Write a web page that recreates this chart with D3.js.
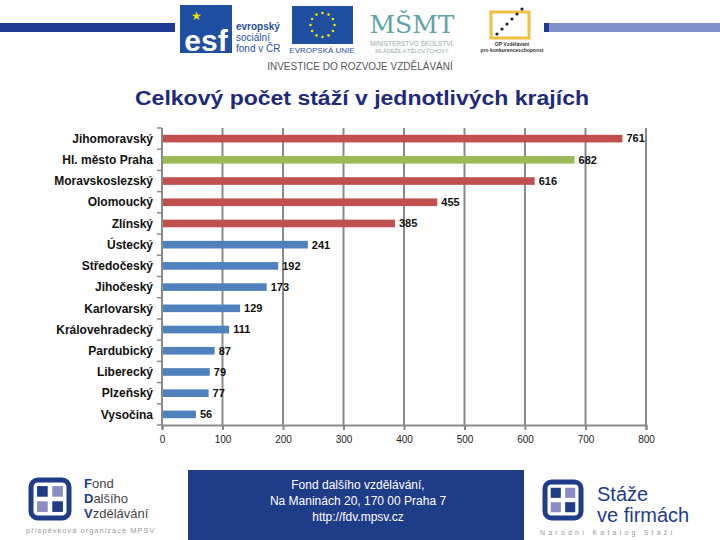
<!DOCTYPE html>
<html>
<head>
<meta charset="utf-8">
<script src="https://cdn.jsdelivr.net/npm/d3@7"></script>
<style>
  body { margin: 0; background: #fff; }
  svg { display: block; font-family: "Liberation Sans", Arial, sans-serif; }
</style>
</head>
<body>
<svg id="chart" width="720" height="540"></svg>
<script>
const regions= ['Jihomoravský', 'Hl. město Praha', 'Moravskoslezský', 'Olomoucký', 'Zlínský',
  'Ústecký', 'Středočeský', 'Jihočeský', 'Karlovarský', 'Královehradecký',
  'Pardubický', 'Liberecký', 'Plzeňský', 'Vysočina'];
const internships= [761, 682, 616, 455, 385, 241, 192, 173, 129, 111, 87, 79, 77, 56];
const groups= ['red', 'green', 'red', 'red', 'red', 'blue', 'blue', 'blue', 'blue', 'blue',
  'blue', 'blue', 'blue', 'blue'];
const xTicks= [0, 100, 200, 300, 400, 500, 600, 700, 800];

const palette= { red: '#c0504d', green: '#9bbb59', blue: '#4f81bd' };
const navy= '#1f3c88';
const grid= '#8a8a8a';

const svg= d3.select('#chart');

// header band and logos
svg.append('rect').attr('x', 0).attr('y', 23).attr('width', 175).attr('height', 9).attr('fill', '#1f3a93');
svg.append('rect').attr('x', 544).attr('y', 23).attr('width', 176).attr('height', 9).attr('fill', '#7f8fc8');
svg.append('rect').attr('x', 544).attr('y', 23).attr('width', 5).attr('height', 9).attr('fill', '#1f3a93');

// esf
svg.append('rect').attr('x', 180).attr('y', 5).attr('width', 52).attr('height', 48).attr('fill', '#1f4fa0');
svg.append('text').attr('x', 206).attr('y', 51).attr('text-anchor', 'middle')
  .attr('fill', '#fff').attr('font-size', 30).attr('font-weight', 'bold').text('esf');
svg.append('text').attr('x', 196).attr('y', 20).attr('text-anchor', 'middle')
  .attr('fill', '#f5e000').attr('font-size', 12).text('★');
[['evropský', 30, '#1f4fa0', 'bold'], ['sociální', 41, '#1f4fa0', 'normal'], ['fond v ČR', 52, '#1f4fa0', 'normal']]
  .forEach(([t, y, c, w]) => svg.append('text').attr('x', 236).attr('y', y).attr('fill', c)
    .attr('font-size', 10).attr('font-weight', w).text(t));

// eu flag
svg.append('rect').attr('x', 292).attr('y', 6).attr('width', 61).attr('height', 38).attr('fill', '#1f4fa0');
d3.range(12).forEach(i => {
  const a= i/12*2*Math.PI;
  svg.append('circle').attr('cx', 322.5+12*Math.cos(a)).attr('cy', 25+12*Math.sin(a))
    .attr('r', 1.3).attr('fill', '#f5e000');
});
svg.append('text').attr('x', 322).attr('y', 53).attr('text-anchor', 'middle')
  .attr('fill', '#1f4fa0').attr('font-size', 8).text('EVROPSKÁ UNIE');

// msmt
svg.append('text').attr('x', 412).attr('y', 33).attr('text-anchor', 'middle')
  .attr('fill', '#5fa3a8').attr('font-size', 25).attr('font-family', 'DejaVu Serif').text('MŠMT');
svg.append('text').attr('x', 412).attr('y', 46).attr('text-anchor', 'middle')
  .attr('fill', '#9aa').attr('font-size', 6.5).text('MINISTERSTVO ŠKOLSTVÍ,');
svg.append('text').attr('x', 412).attr('y', 53).attr('text-anchor', 'middle')
  .attr('fill', '#9aa').attr('font-size', 5.5).text('MLÁDEŽE A TĚLOVÝCHOVY');

// op logo
svg.append('rect').attr('x', 491).attr('y', 12).attr('width', 38).attr('height', 26)
  .attr('fill', 'none').attr('stroke', '#f0c040').attr('stroke-width', 3);
d3.range(6).forEach(i => svg.append('circle').attr('cx', 497+i*5).attr('cy', 34-i*5)
  .attr('r', 1.6).attr('fill', '#222'));
svg.append('text').attr('x', 512).attr('y', 46).attr('text-anchor', 'middle')
  .attr('fill', '#333').attr('font-size', 5).attr('font-weight', 'bold').text('OP Vzdělávání');
svg.append('text').attr('x', 512).attr('y', 52).attr('text-anchor', 'middle')
  .attr('fill', '#333').attr('font-size', 5).attr('font-weight', 'bold').text('pro konkurenceschopnost');

svg.append('text').attr('x', 360).attr('y', 70).attr('text-anchor', 'middle')
  .attr('fill', '#555').attr('font-size', 10).text('INVESTICE DO ROZVOJE VZDĚLÁVÁNÍ');

// title
svg.append('text').attr('x', 362).attr('y', 105).attr('text-anchor', 'middle')
  .attr('fill', '#1f2a7a').attr('font-size', 20).attr('font-weight', 'bold')
  .attr('textLength', 454).attr('lengthAdjust', 'spacingAndGlyphs')
  .text('Celkový počet stáží v jednotlivých krajích');

// chart
const x= d3.scaleLinear().domain([0, 800]).range([162, 646]);
const y= d3.scaleBand().domain(regions).range([128, 425]).paddingInner(0.64).paddingOuter(0.32);

svg.append('g').selectAll('line').data(xTicks.slice(1)).join('line')
  .attr('x1', d => x(d)).attr('x2', d => x(d))
  .attr('y1', 128).attr('y2', 425)
  .attr('stroke', grid).attr('stroke-width', 2);

const xAxis= svg.append('g').attr('transform', 'translate(0,425)')
  .call(d3.axisBottom(x).tickValues(xTicks).tickSize(5).tickPadding(6).tickFormat(d3.format('d')));
xAxis.select('.domain').attr('stroke', grid).attr('stroke-width', 2);
xAxis.selectAll('.tick line').attr('stroke', grid).attr('stroke-width', 2);
xAxis.selectAll('.tick text').attr('font-size', 10).attr('fill', '#222')
  .attr('font-family', '"Liberation Sans", Arial, sans-serif');

// left axis line with ticks at band boundaries
svg.append('line').attr('x1', 162).attr('x2', 162).attr('y1', 128).attr('y2', 425)
  .attr('stroke', grid).attr('stroke-width', 2);
svg.append('g').selectAll('line').data(d3.range(regions.length+1)).join('line')
  .attr('x1', 157).attr('x2', 162)
  .attr('y1', i => 128+i*(297/regions.length)).attr('y2', i => 128+i*(297/regions.length))
  .attr('stroke', grid).attr('stroke-width', 1.5);

svg.append('g').selectAll('rect').data(regions).join('rect')
  .attr('x', x(0)+1)
  .attr('y', d => y(d))
  .attr('width', (d, i) => x(internships[i])-x(0)-1)
  .attr('height', y.bandwidth())
  .attr('fill', (d, i) => palette[groups[i]]);

svg.append('g').selectAll('text').data(regions).join('text')
  .attr('x', 153)
  .attr('y', d => y(d)+y.bandwidth()/2)
  .attr('dy', '0.35em')
  .attr('text-anchor', 'end')
  .attr('font-size', 12).attr('font-weight', 'bold').attr('fill', '#111')
  .text(d => d);

svg.append('g').selectAll('text').data(regions).join('text')
  .attr('x', (d, i) => x(internships[i])+4)
  .attr('y', d => y(d)+y.bandwidth()/2)
  .attr('dy', '0.35em')
  .attr('font-size', 11).attr('font-weight', 'bold').attr('fill', '#111')
  .text((d, i) => internships[i]);

// footer
svg.append('rect').attr('x', 188).attr('y', 470).attr('width', 336).attr('height', 70).attr('fill', navy);
['Fond dalšího vzdělávání,', 'Na Maninách 20, 170 00  Praha 7', 'http://fdv.mpsv.cz']
  .forEach((t, i) => svg.append('text').attr('x', 358).attr('y', 489+i*16).attr('text-anchor', 'middle')
    .attr('fill', '#fff').attr('font-size', 12).text(t));

function fondLogo(x0, y0, s) {
  svg.append('rect').attr('x', x0).attr('y', y0).attr('width', s).attr('height', s).attr('rx', s*0.18)
    .attr('fill', '#fff').attr('stroke', navy).attr('stroke-width', 5);
  const c= s*0.28, g= s*0.12;
  const m= (s-2*c-g)/2;
  svg.append('rect').attr('x', x0+m).attr('y', y0+m).attr('width', c).attr('height', c).attr('fill', navy);
  svg.append('rect').attr('x', x0+m+c+g).attr('y', y0+m).attr('width', c).attr('height', c).attr('fill', '#8c8cc4');
  svg.append('rect').attr('x', x0+m).attr('y', y0+m+c+g).attr('width', c).attr('height', c).attr('fill', '#8c8cc4');
  svg.append('rect').attr('x', x0+m+c+g).attr('y', y0+m+c+g).attr('width', c).attr('height', c).attr('fill', navy);
}
fondLogo(31, 480, 38);
[['F', 'ond', 488], ['D', 'alšího', 503], ['V', 'zdělávání', 518]].forEach(([a, b, yy]) => {
  const t= svg.append('text').attr('x', 84).attr('y', yy).attr('font-size', 13).attr('fill', navy);
  t.append('tspan').attr('font-weight', 'bold').text(a);
  t.append('tspan').attr('fill', '#444').text(b);
});
svg.append('text').attr('x', 26).attr('y', 533).attr('font-size', 7.5).attr('fill', '#999')
  .attr('letter-spacing', 1).text('příspěvková organizace MPSV');

fondLogo(545, 482, 36);
svg.append('text').attr('x', 597).attr('y', 501).attr('font-size', 20).attr('fill', navy).text('Stáže');
svg.append('text').attr('x', 597).attr('y', 522).attr('font-size', 20).attr('fill', navy).text('ve firmách');
svg.append('text').attr('x', 540).attr('y', 535).attr('font-size', 7).attr('fill', '#999')
  .attr('letter-spacing', 3.2).text('Národní Katalog Stáží');
</script>
</body>
</html>
